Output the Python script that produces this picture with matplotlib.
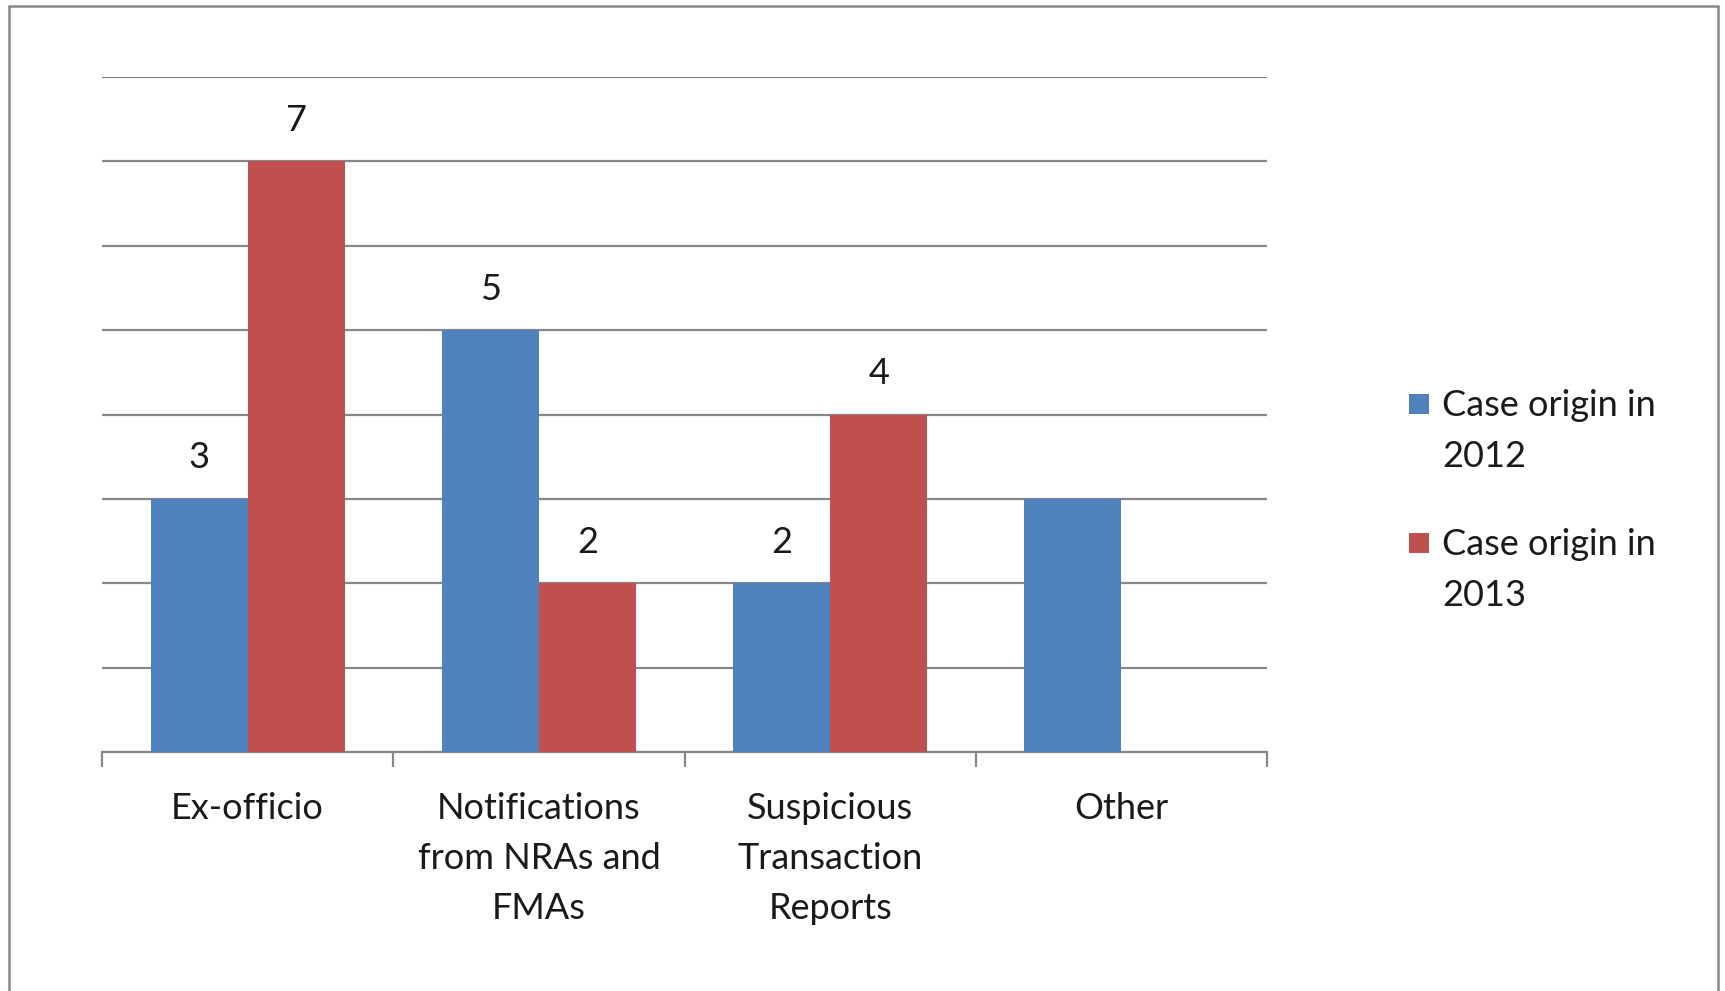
import matplotlib
matplotlib.use("Agg")
import matplotlib.pyplot as plt
from matplotlib.patches import Rectangle
import numpy as np

categories = ["Ex-officio", "Notifications\nfrom NRAs and\nFMAs", "Suspicious\nTransaction\nReports", "Other"]
series_names = ["Case origin in\n2012", "Case origin in\n2013"]
values_2012 = [3, 5, 2, 3]
values_2013 = [7, 2, 4, 0]
labels_2012 = ["3", "5", "2", ""]
labels_2013 = ["7", "2", "4", ""]
colors = ["#4F81BD", "#C0504D"]
grid_color = "#878787"

plt.rcParams['font.family'] = ['Lato', 'DejaVu Sans']
FS = 26

W, H = 1725, 991
fig = plt.figure(figsize=(W / 100, H / 100), dpi=100)
ax = fig.add_axes([102 / W, 1 - 752 / H, (1267 - 102) / W, (752 - 77) / H])

x = np.arange(len(categories))
bw = 1 / 3
b1 = ax.bar(x - bw / 2, values_2012, bw, color=colors[0], zorder=3)
b2 = ax.bar(x + bw / 2, values_2013, bw, color=colors[1], zorder=3)

for bars, labs in ((b1, labels_2012), (b2, labels_2013)):
    for rect, lab in zip(bars, labs):
        if lab:
            ax.annotate(lab, (rect.get_x() + rect.get_width() / 2, rect.get_height()),
                        xytext=(0, 29.5), textcoords="offset points",
                        ha="center", va="center", fontsize=FS, color="#1a1a1a")

ax.set_xlim(-0.5, len(categories) - 0.5)
ax.set_ylim(0, 8)
ax.set_yticks(range(0, 9))
ax.yaxis.grid(True, color=grid_color, linewidth=1.6, zorder=0)
ax.tick_params(axis="y", left=False, labelleft=False)

ax.set_xticks(x)
ax.set_xticklabels(categories, fontsize=FS, color="#1a1a1a", linespacing=1.64)
ax.set_xticks(np.arange(-0.5, len(categories)), minor=True)
ax.tick_params(axis="x", which="major", length=0, pad=28.5)
ax.tick_params(axis="x", which="minor", length=11, width=1.6, color=grid_color, direction="out")

for s in ("top", "right", "left"):
    ax.spines[s].set_visible(False)
ax.spines["bottom"].set_color(grid_color)
ax.spines["bottom"].set_linewidth(1.6)
ax.set_facecolor("none")

# legend (manual, square aligned with first line)
leg_y = [404, 543]
for name, col, yc in zip(series_names, colors, leg_y):
    fig.patches.append(Rectangle((1409 / W, 1 - (yc + 10) / H), 20 / W, 20 / H,
                                 transform=fig.transFigure, facecolor=col, edgecolor="none"))
    fig.text(1442 / W, 1 - (yc - 15) / H, name, fontsize=FS, va="top", ha="left",
             color="#1a1a1a", linespacing=1.65)

# outer frame
fig.patches.append(Rectangle((9 / W, -0.05), (1718 - 9) / W, 1.05 - 5.5 / H,
                             transform=fig.transFigure, facecolor="none",
                             edgecolor="#878787", linewidth=1.8))

fig.savefig("out.png", dpi=100, facecolor="white")
